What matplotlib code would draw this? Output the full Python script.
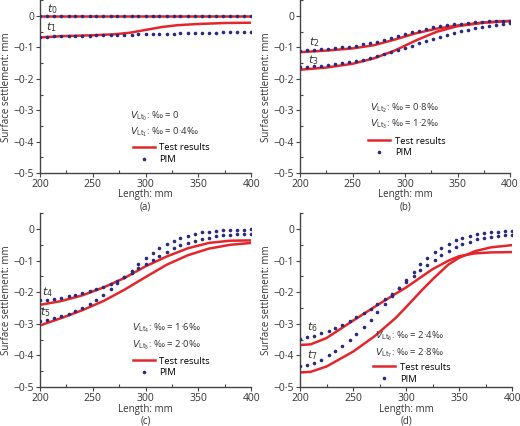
import matplotlib
matplotlib.use("Agg")
import matplotlib.pyplot as plt
from matplotlib.lines import Line2D
from matplotlib.ticker import FuncFormatter, MultipleLocator

RED = "#e3262b"
NAVY = "#2b2a7e"
GREY = "#444444"
TXT = "#333333"

plt.rcParams["font.family"] = ["Open Sans", "DejaVu Sans"]
plt.rcParams["mathtext.fontset"] = "dejavusans"

# PIM sample positions (mm)
PIM_X = [200, 207, 213, 220, 227, 233, 240, 247, 253, 260, 267, 273, 280, 287, 293,
         300, 307, 313, 320, 327, 333, 340, 347, 353, 360, 367, 373, 380, 387, 393, 400]

# ---- panel (a)
TEST_X_A = [200, 220, 250, 270, 285, 300, 315, 330, 350, 375, 400]
TEST_T0 = [0.0] * 11
TEST_T1 = [-0.068, -0.064, -0.061, -0.058, -0.053, -0.044, -0.035, -0.029, -0.025, -0.022, -0.021]
PIM_T0 = [0.0] * 31
PIM_T1 = [-0.066, -0.065, -0.064, -0.064, -0.063, -0.063, -0.062, -0.062, -0.061, -0.061,
          -0.060, -0.060, -0.059, -0.059, -0.058, -0.058, -0.057, -0.057, -0.056, -0.056,
          -0.055, -0.055, -0.054, -0.054, -0.053, -0.053, -0.052, -0.052, -0.051, -0.051, -0.050]

# ---- panel (b)
TEST_X_B = [200, 225, 250, 270, 290, 310, 330, 350, 375, 400]
TEST_T2 = [-0.115, -0.110, -0.103, -0.093, -0.075, -0.055, -0.040, -0.030, -0.020, -0.015]
TEST_T3 = [-0.171, -0.164, -0.152, -0.135, -0.110, -0.078, -0.050, -0.032, -0.021, -0.016]
PIM_T2 = [-0.110, -0.109, -0.108, -0.106, -0.104, -0.102, -0.100, -0.097, -0.094, -0.090,
          -0.086, -0.081, -0.075, -0.069, -0.063, -0.057, -0.051, -0.046, -0.041, -0.036,
          -0.032, -0.029, -0.026, -0.024, -0.022, -0.020, -0.018, -0.017, -0.016, -0.015, -0.015]
PIM_T3 = [-0.163, -0.162, -0.160, -0.158, -0.156, -0.153, -0.150, -0.147, -0.143, -0.139,
          -0.134, -0.128, -0.122, -0.115, -0.108, -0.101, -0.094, -0.087, -0.080, -0.073,
          -0.066, -0.060, -0.054, -0.048, -0.043, -0.038, -0.034, -0.030, -0.027, -0.025, -0.023]

# ---- panel (c)
TEST_X_C = [200, 220, 240, 260, 280, 300, 320, 340, 360, 380, 400]
TEST_T4 = [-0.240, -0.228, -0.210, -0.185, -0.155, -0.118, -0.087, -0.061, -0.044, -0.037, -0.036]
TEST_T5 = [-0.305, -0.282, -0.257, -0.228, -0.192, -0.152, -0.113, -0.083, -0.062, -0.050, -0.044]
PIM_T4 = [-0.226, -0.224, -0.221, -0.217, -0.213, -0.208, -0.203, -0.197, -0.190, -0.182,
          -0.173, -0.163, -0.151, -0.138, -0.124, -0.110, -0.097, -0.084, -0.072, -0.061,
          -0.052, -0.044, -0.037, -0.031, -0.027, -0.023, -0.020, -0.018, -0.017, -0.016, -0.015]
PIM_T5 = [-0.292, -0.287, -0.282, -0.276, -0.268, -0.260, -0.250, -0.238, -0.224, -0.208,
          -0.190, -0.172, -0.152, -0.132, -0.112, -0.093, -0.076, -0.061, -0.048, -0.037,
          -0.028, -0.021, -0.015, -0.011, -0.008, -0.005, -0.004, -0.003, -0.002, -0.002, -0.001]

# ---- panel (d)
TEST_X_D = [200, 210, 225, 250, 270, 290, 300, 315, 325, 340, 350, 365, 380, 400]
TEST_T6 = [-0.367, -0.365, -0.345, -0.290, -0.247, -0.205, -0.185, -0.150, -0.127, -0.100,
           -0.086, -0.077, -0.074, -0.073]
TEST_T7 = [-0.454, -0.452, -0.435, -0.388, -0.340, -0.282, -0.247, -0.193, -0.159, -0.112,
           -0.091, -0.070, -0.058, -0.051]
PIM_T6 = [-0.348, -0.343, -0.337, -0.330, -0.322, -0.313, -0.303, -0.292, -0.280, -0.267,
          -0.253, -0.238, -0.222, -0.205, -0.187, -0.168, -0.149, -0.131, -0.114, -0.098,
          -0.083, -0.070, -0.058, -0.048, -0.040, -0.033, -0.028, -0.024, -0.022, -0.020, -0.019]
PIM_T7 = [-0.435, -0.430, -0.423, -0.413, -0.400, -0.386, -0.370, -0.352, -0.332, -0.310,
          -0.287, -0.263, -0.238, -0.212, -0.186, -0.160, -0.135, -0.112, -0.092, -0.074,
          -0.059, -0.046, -0.036, -0.028, -0.021, -0.016, -0.012, -0.010, -0.008, -0.007, -0.006]

PANELS = [
    # tag, axes rect, test x, test curves, pim curves, curve labels, label pos,
    # annotation pos, volume-loss values, subscripts, legend anchor (axes fraction)
    ("(a)", [0.077, 0.594, 0.406, 0.405], TEST_X_A, [TEST_T0, TEST_T1], [PIM_T0, PIM_T1],
     (r"$t_0$", r"$t_1$"), [(212, 0.022), (211, -0.035)],
     (285, -0.318), ("0", "0·4‰"), (0, 1), (0.44, 0.05)),
    ("(b)", [0.577, 0.594, 0.404, 0.405], TEST_X_B, [TEST_T2, TEST_T3], [PIM_T2, PIM_T3],
     (r"$t_2$", r"$t_3$"), [(214, -0.084), (213, -0.14)],
     (267, -0.293), ("0·8‰", "1·2‰"), (2, 3), (0.325, 0.09)),
    ("(c)", [0.077, 0.0915, 0.406, 0.408], TEST_X_C, [TEST_T4, TEST_T5], [PIM_T4, PIM_T5],
     (r"$t_4$", r"$t_5$"), [(207, -0.2), (205, -0.264)],
     (287, -0.315), ("1·6‰", "2·0‰"), (4, 5), (0.44, 0.055)),
    ("(d)", [0.577, 0.0915, 0.408, 0.408], TEST_X_D, [TEST_T6, TEST_T7], [PIM_T6, PIM_T7],
     (r"$t_6$", r"$t_7$"), [(212, -0.31), (212, -0.40)],
     (271, -0.34), ("2·4‰", "2·8‰"), (6, 7), (0.345, 0.02)),
]


def tick_fmt(v, _pos):
    if abs(v) < 1e-9:
        return "0"
    return f"{v:.1f}".replace("-", "\u2212").replace(".", "·")


def style_ax(ax: plt.Axes) -> None:
    ax.set_xlim(200, 400)
    ax.set_ylim(-0.5, 0.05)
    ax.xaxis.set_major_locator(MultipleLocator(50))
    ax.xaxis.set_minor_locator(MultipleLocator(25))
    ax.yaxis.set_major_locator(MultipleLocator(0.1))
    ax.yaxis.set_minor_locator(MultipleLocator(0.05))
    ax.yaxis.set_major_formatter(FuncFormatter(tick_fmt))
    ax.spines["top"].set_visible(False)
    ax.spines["right"].set_visible(False)
    for side in ("left", "bottom"):
        ax.spines[side].set_color(GREY)
        ax.spines[side].set_linewidth(1.0)
    ax.tick_params(which="major", direction="out", length=3, width=0.8, color=GREY,
                   labelsize=7.5, labelcolor=TXT, pad=1.2)
    ax.tick_params(which="minor", direction="in", length=2.5, width=0.8, color=GREY)
    ax.set_xlabel("Length: mm", fontsize=7, color=TXT)
    ax.set_ylabel("Surface settlement: mm", fontsize=7, color=TXT)
    ax.xaxis.set_label_coords(0.5, -0.127)
    ax.xaxis.label.set_verticalalignment("center")
    ax.yaxis.set_label_coords(-0.16, 0.5)
    ax.yaxis.label.set_verticalalignment("center")


fig = plt.figure(figsize=(5.2, 4.26), dpi=100)

for (tag, rect, tx, tests, pims, tlabels, tpos, apos, vals, idx, legpos) in PANELS:
    ax = fig.add_axes(rect)
    for ty in tests:
        ax.plot(tx, ty, "-", color=RED, linewidth=1.8, zorder=2)
    for py in pims:
        ax.plot(PIM_X, py, "o", color=NAVY, markersize=2.6, markeredgewidth=0, zorder=3)
    for lab, (lx, ly) in zip(tlabels, tpos):
        ax.text(lx, ly, lab, fontsize=8, color=TXT, ha="center", va="center")
    ax.text(apos[0], apos[1], rf"$V_{{\mathrm{{Lt}}_{idx[0]}}}$: ‰ = {vals[0]}",
            fontsize=6.8, color=TXT, va="center")
    ax.text(apos[0], apos[1] - 0.052, rf"$V_{{\mathrm{{Lt}}_{idx[1]}}}$: ‰ = {vals[1]}",
            fontsize=6.8, color=TXT, va="center")
    handles = [Line2D([], [], color=RED, linewidth=1.8),
               Line2D([], [], color=NAVY, marker="o", linestyle="", markersize=2.6,
                      markeredgewidth=0)]
    ax.legend(handles, ["Test results", "PIM"], loc="lower left", bbox_to_anchor=legpos,
              frameon=False, fontsize=6.8, handlelength=2.3, handletextpad=0.5,
              labelspacing=0.3, borderpad=0, borderaxespad=0)
    style_ax(ax)
    ax.text(0.5, -0.195, tag, transform=ax.transAxes, fontsize=7, color=TXT,
            ha="center", va="center")

fig.savefig("out.png", dpi=100)
